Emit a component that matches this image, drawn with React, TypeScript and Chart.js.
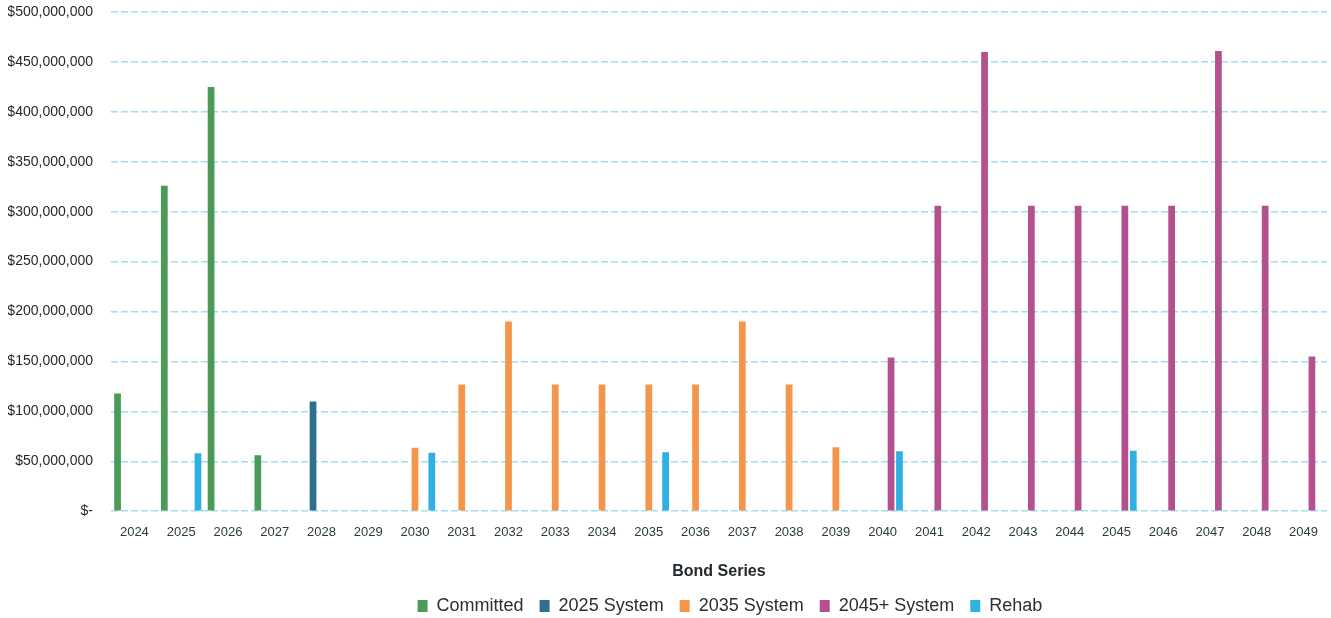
import React, { useEffect, useRef } from "react";
import { Chart, registerables } from "chart.js";

Chart.register(...registerables);

const years: string[] = [
  "2024", "2025", "2026", "2027", "2028", "2029", "2030", "2031", "2032",
  "2033", "2034", "2035", "2036", "2037", "2038", "2039", "2040", "2041",
  "2042", "2043", "2044", "2045", "2046", "2047", "2048", "2049",
];

const M = 1_000_000;

const committed: (number | null)[] = [
  118 * M, 326 * M, 425 * M, 56 * M, null, null, null, null, null,
  null, null, null, null, null, null, null, null, null,
  null, null, null, null, null, null, null, null,
];

const system2025: (number | null)[] = [
  null, null, null, null, 110 * M, null, null, null, null,
  null, null, null, null, null, null, null, null, null,
  null, null, null, null, null, null, null, null,
];

const system2035: (number | null)[] = [
  null, null, null, null, null, null, 63.5 * M, 127 * M, 190 * M,
  127 * M, 127 * M, 127 * M, 127 * M, 190 * M, 127 * M, 64 * M, null, null,
  null, null, null, null, null, null, null, null,
];

const system2045: (number | null)[] = [
  null, null, null, null, null, null, null, null, null,
  null, null, null, null, null, null, null, 154 * M, 306 * M,
  460 * M, 306 * M, 306 * M, 306 * M, 306 * M, 461 * M, 306 * M, 155 * M,
];

const rehab: (number | null)[] = [
  null, 58 * M, null, null, null, null, 58.5 * M, null, null,
  null, null, 59 * M, null, null, null, null, 60 * M, null,
  null, null, null, 60.5 * M, null, null, null, null,
];

const seriesNames: string[] = ["Committed", "2025 System", "2035 System", "2045+ System", "Rehab"];
const seriesColors: string[] = ["#4c9a58", "#2e6f8e", "#f5954a", "#b5508f", "#2eb1e0"];

const yMax = 500 * M;
const yStep = 50 * M;

const fmtDollars = (v: number): string =>
  v === 0 ? "$-" : "$" + Math.round(v).toLocaleString("en-US");

const FONT = "'Liberation Sans', Arial, sans-serif";

// Nudges the legend row a little to the right of the plot centre.
const legendNudge = {
  id: "legendNudge",
  afterLayout(chart: any) {
    const lg = chart.legend;
    if (lg) {
      lg.left += 11;
      lg.right += 11;
    }
  },
};

export default function App() {
  const canvasRef = useRef<HTMLCanvasElement | null>(null);

  useEffect(() => {
    const canvas = canvasRef.current;
    if (!canvas) return;
    const values = [committed, system2025, system2035, system2045, rehab];
    const chart = new Chart(canvas, {
      type: "bar",
      data: {
        labels: years,
        datasets: values.map((d, i) => ({
          label: seriesNames[i],
          data: d,
          backgroundColor: seriesColors[i],
          borderWidth: 0,
          barPercentage: 0.8,
          categoryPercentage: 0.9,
        })),
      },
      plugins: [legendNudge],
      options: {
        responsive: false,
        animation: false,
        layout: { padding: { top: 12, right: 1, left: 8, bottom: -7 } },
        plugins: {
          legend: {
            position: "bottom",
            fullSize: false,
            labels: {
              font: { family: FONT, size: 18 },
              color: "#2a2f33",
              boxWidth: 10,
              boxHeight: 12,
              padding: 16,
            },
          },
          tooltip: { enabled: false },
        },
        scales: {
          x: {
            grid: { display: false, drawTicks: false },
            border: { display: false },
            ticks: {
              font: { family: FONT, size: 13 },
              color: "#2b3b40",
              maxRotation: 0,
              autoSkip: false,
              padding: 13,
            },
            title: {
              display: true,
              text: "Bond Series",
              font: { family: FONT, size: 16, weight: "bold" },
              color: "#22282c",
              padding: { top: 9, bottom: 0 },
            },
          },
          y: {
            min: 0,
            max: yMax,
            border: { display: false, dash: [7, 3] },
            grid: {
              color: "#a3def0",
              lineWidth: 1.5,
              drawTicks: false,
            },
            ticks: {
              stepSize: yStep,
              font: { family: FONT, size: 14 },
              color: "#1f2528",
              padding: 18,
              callback: (v) => fmtDollars(Number(v)),
            },
            afterFit: (scale) => {
              scale.width = 103;
              scale.paddingTop = 0;
              scale.paddingBottom = 0;
            },
          },
        },
      },
    });
    return () => chart.destroy();
  }, []);

  return (
    <div style={{ position: "fixed", left: 0, top: 0, width: 1331, height: 618, background: "#fff" }}>
      <canvas ref={canvasRef} width={1331} height={618} />
    </div>
  );
}
